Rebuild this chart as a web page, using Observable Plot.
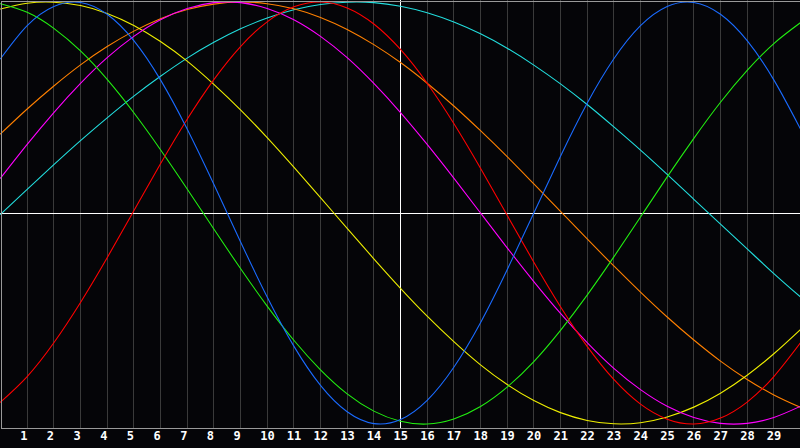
<!DOCTYPE html>
<html><head><meta charset="utf-8">
<script src="https://cdn.jsdelivr.net/npm/d3@7"></script>
<script src="https://cdn.jsdelivr.net/npm/@observablehq/plot@0.6"></script>
<style>html,body{margin:0;padding:0;background:#050508;overflow:hidden;}</style>
</head><body><div id="chart"></div>
<script>
const days = [0,1,2,3,4,5,6,7,8,9,10,11,12,13,14,15,16,17,18,19,20,21,22,23,24,25,26,27,28,29,30];
const tickDays = [1,2,3,4,5,6,7,8,9,10,11,12,13,14,15,16,17,18,19,20,21,22,23,24,25,26,27,28,29];
const today = 15;

const physical = [0.731,0.888,0.979,0.998,0.942,0.817,0.631,0.398,0.136,-0.136,-0.398,-0.631,-0.817,-0.942,-0.998,-0.979,-0.888,-0.731,-0.520,-0.269,0.000,0.269,0.520,0.731,0.888,0.979,0.998,0.942,0.817,0.631,0.398];
const emotional = [-0.896,-0.775,-0.615,-0.424,-0.212,0.011,0.233,0.444,0.632,0.789,0.906,0.977,1.000,0.972,0.896,0.775,0.615,0.424,0.212,-0.011,-0.233,-0.444,-0.632,-0.789,-0.906,-0.977,-1.000,-0.972,-0.896,-0.775,-0.615];
const intellectual = [0.992,0.951,0.875,0.768,0.633,0.475,0.300,0.114,-0.076,-0.263,-0.441,-0.603,-0.743,-0.857,-0.939,-0.987,-1.000,-0.976,-0.917,-0.825,-0.704,-0.556,-0.389,-0.208,-0.019,0.171,0.354,0.525,0.676,0.803,0.902];
const intuitive = [0.165,0.325,0.476,0.614,0.736,0.837,0.916,0.969,0.997,0.997,0.969,0.916,0.837,0.736,0.614,0.476,0.325,0.165,0.000,-0.165,-0.325,-0.476,-0.614,-0.736,-0.837,-0.916,-0.969,-0.997,-0.997,-0.969,-0.916];
const aesthetic = [0.967,0.994,0.999,0.983,0.946,0.889,0.813,0.720,0.610,0.489,0.357,0.217,0.073,-0.073,-0.217,-0.357,-0.489,-0.610,-0.720,-0.813,-0.889,-0.946,-0.983,-0.999,-0.994,-0.967,-0.920,-0.854,-0.769,-0.667,-0.552];
const awareness = [0.375,0.493,0.602,0.702,0.789,0.862,0.921,0.964,0.990,1.000,0.992,0.968,0.927,0.870,0.798,0.713,0.615,0.507,0.390,0.267,0.138,0.008,-0.123,-0.251,-0.375,-0.493,-0.602,-0.702,-0.789,-0.862,-0.921];
const spiritual = [-0.006,0.112,0.229,0.343,0.451,0.554,0.648,0.734,0.809,0.873,0.924,0.963,0.988,0.999,0.997,0.980,0.949,0.905,0.849,0.781,0.701,0.612,0.514,0.408,0.298,0.183,0.065,-0.053,-0.170,-0.287,-0.398];

const seriesNames = ["Spiritual","Awareness","Aesthetic","Intuitive","Intellectual","Emotional","Physical"];
const seriesColors = ["#22dddd","#ff8000","#eeee00","#ff00ff","#22ee11","#ff0000","#1a6bff"];
const seriesValues = [spiritual, awareness, aesthetic, intuitive, intellectual, emotional, physical];

const data = seriesNames.flatMap((name, k) => seriesValues[k].map((v, i) => ({day: days[i], value: v, name})));

const chart = Plot.plot({
  width: 800,
  height: 448,
  marginLeft: 0,
  marginRight: 0,
  marginTop: 0,
  marginBottom: 20,
  style: {background: "#050508", color: "white"},
  x: {domain: [0, 30], axis: null},
  y: {domain: [-1.0213, 1.0071], axis: null},
  color: {domain: seriesNames, range: seriesColors},
  marks: [
    Plot.ruleX(tickDays, {stroke: "#3a3a3a", strokeWidth: 1, shapeRendering: "crispEdges"}),
    Plot.ruleY([0], {stroke: "white", strokeWidth: 1, shapeRendering: "crispEdges"}),
    Plot.ruleX([today], {stroke: "white", strokeWidth: 1, shapeRendering: "crispEdges"}),
    Plot.line(data, {x: "day", y: "value", z: "name", stroke: "name", curve: "natural", strokeWidth: 1.1}),
    Plot.frame({stroke: "#999", inset: 0.5, shapeRendering: "crispEdges"}),
    Plot.text(tickDays, {
      x: d => d, text: d => String(d), frameAnchor: "bottom", dy: 11,
      textAnchor: "start", dx: -7, fill: "white", fontWeight: "bold",
      fontSize: 12, fontFamily: "DejaVu Sans Mono"
    })
  ]
});
document.getElementById("chart").appendChild(chart);
</script>
</body></html>
